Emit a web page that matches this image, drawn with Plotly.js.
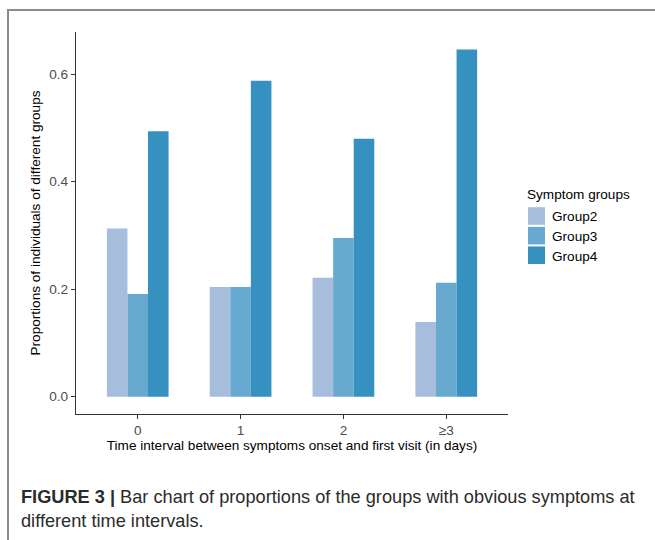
<!DOCTYPE html>
<html>
<head>
<meta charset="utf-8">
<script src="https://cdn.plot.ly/plotly-3.0.1.min.js"></script>
<style>
  html, body { margin: 0; padding: 0; background: #ffffff; }
  #wrap { position: relative; width: 655px; height: 540px; overflow: hidden; }
  #frame { position: absolute; left: 7px; top: 9px; width: 700px; height: 600px;
           border-top: 2px solid #8c8c8c; border-left: 2px solid #8c8c8c; }
  #chart { position: absolute; left: 0; top: 0; width: 655px; height: 540px; }
</style>
</head>
<body>
<div id="wrap">
  <div id="frame"></div>
  <div id="chart"></div>
</div>
<script>
// ---- data ----
const categories = ['0', '1', '2', '≥3'];
const group2 = [0.313, 0.204, 0.221, 0.139];
const group3 = [0.191, 0.204, 0.295, 0.212];
const group4 = [0.494, 0.588, 0.480, 0.646];
const seriesNames = ['Group2', 'Group3', 'Group4'];
const seriesColors = ['#a6bddb', '#67a9cf', '#3690c0'];

// ---- layout geometry ----
const W = 655, H = 540;
const M = { l: 76, r: 147, t: 32, b: 126 };
const plotW = W - M.l - M.r, plotH = H - M.t - M.b;
const px2x = px => (px - M.l) / plotW;
const py2y = py => 1 - (py - M.t) / plotH;

const FONT = 'Liberation Sans, Arial, sans-serif';
const FS = 13.6;
const seriesData = [group2, group3, group4];
const traces = seriesData.map((vals, i) => ({
  type: 'bar',
  name: seriesNames[i],
  x: categories,
  y: vals,
  marker: { color: seriesColors[i], line: { width: 0 } },
  hoverinfo: 'x+y+name'
}));

const layout = {
  width: W, height: H,
  margin: M,
  paper_bgcolor: 'rgba(0,0,0,0)',
  plot_bgcolor: 'rgba(0,0,0,0)',
  barmode: 'group',
  bargap: 0.4,
  bargroupgap: 0,
  font: { family: FONT, size: FS, color: '#000000' },
  xaxis: {
    type: 'category',
    range: [-0.6, 3.6],
    showline: true, linecolor: '#333333', linewidth: 1.1,
    ticks: 'outside', ticklen: 4, tickcolor: '#333333', tickwidth: 1.1,
    tickfont: { family: FONT, size: FS, color: '#4d4d4d' },
    showgrid: false, zeroline: false,
    title: { text: 'Time interval between symptoms onset and first visit (in days)',
             font: { family: FONT, size: FS, color: '#000000' }, standoff: 1 }
  },
  yaxis: {
    range: [-0.0323, 0.6785],
    tickvals: [0, 0.2, 0.4, 0.6],
    ticktext: ['0.0', '0.2', '0.4', '0.6'],
    showline: true, linecolor: '#333333', linewidth: 1.1,
    ticks: 'outside', ticklen: 4, tickcolor: '#333333', tickwidth: 1.1,
    tickfont: { family: FONT, size: FS, color: '#4d4d4d' },
    showgrid: false, zeroline: false,
    title: { text: 'Proportions of individuals of different groups',
             font: { family: FONT, size: FS, color: '#000000' }, standoff: 5 }
  },
  legend: {
    x: px2x(525), xanchor: 'left',
    y: py2y(181), yanchor: 'top',
    bgcolor: 'rgba(0,0,0,0)',
    font: { family: FONT, size: FS, color: '#000000' },
    title: { text: 'Symptom groups', font: { family: FONT, size: FS, color: '#000000' } },
    tracegroupgap: 0,
    itemwidth: 30,
    traceorder: 'normal'
  },
  showlegend: true,
  annotations: [
    {
      xref: 'paper', yref: 'paper',
      x: px2x(19), y: py2y(497), xanchor: 'left', yanchor: 'middle',
      text: '<b>FIGURE 3 |</b> Bar chart of proportions of the groups with obvious symptoms at',
      showarrow: false, align: 'left',
      font: { family: FONT, size: 18.2, color: '#2b2b2b' }
    },
    {
      xref: 'paper', yref: 'paper',
      x: px2x(19), y: py2y(521), xanchor: 'left', yanchor: 'middle',
      text: 'different time intervals.',
      showarrow: false, align: 'left',
      font: { family: FONT, size: 18.2, color: '#2b2b2b' }
    }
  ]
};

Plotly.newPlot('chart', traces, layout, { displayModeBar: false, staticPlot: true }).then(gd => {
  // reference key: 17px swatches, tighter rows, labels closer to the swatches
  gd.querySelectorAll('.legend .legendpoints path').forEach(p => {
    p.setAttribute('d', 'M0,8.8H-17V-8.8H0Z');
  });
  gd.querySelectorAll('.legend .traces text.legendtext').forEach(t => {
    t.setAttribute('x', '27');
  });
  const items = Array.from(gd.querySelectorAll('.legend .traces'));
  if (items.length) {
    const m0 = /translate\(\s*([-\d.]+)[ ,]+([-\d.]+)\s*\)/.exec(items[0].getAttribute('transform') || '');
    if (m0) {
      const x0 = parseFloat(m0[1]), y0 = parseFloat(m0[2]) + 2;
      items.forEach((g, i) => g.setAttribute('transform', `translate(${x0},${y0 + i * 19.6})`));
    }
  }
});
</script>
</body>
</html>
